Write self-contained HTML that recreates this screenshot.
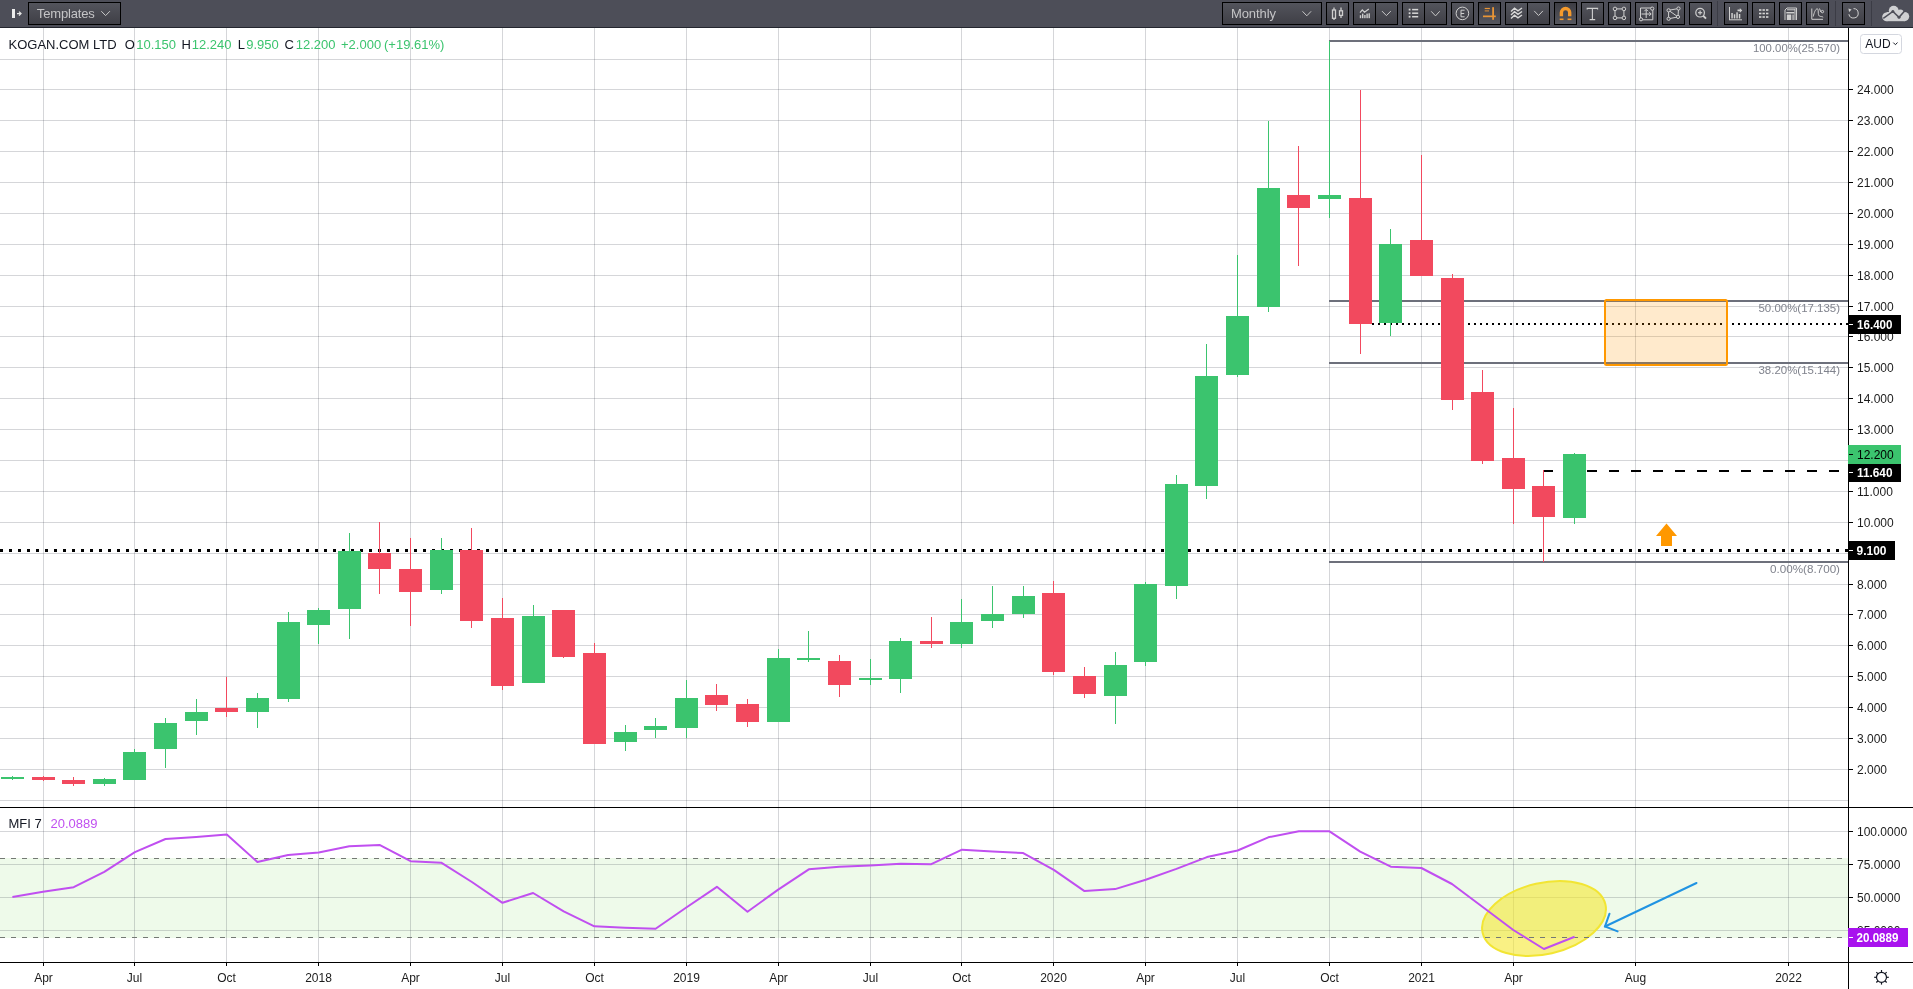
<!DOCTYPE html>
<html><head><meta charset="utf-8"><title>KOGAN.COM LTD chart</title>
<style>
html,body{margin:0;padding:0;width:1913px;height:989px;overflow:hidden;background:#fff;font-family:"Liberation Sans", sans-serif;}
#chart{position:absolute;left:0;top:0;will-change:transform;}
#tb{will-change:transform;}
#tb{position:absolute;left:0;top:0;width:1913px;height:27px;background:#4d4e58;border-bottom:1px solid #24262f;z-index:2;}
.b{position:absolute;top:2px;height:21px;border:1px solid #000;background:linear-gradient(#53545c,#3f3f46);box-sizing:content-box;}
.b.act{background:linear-gradient(#3d3d44,#55565e);}
.b svg{position:absolute;left:0;top:0;}
.dv{position:absolute;top:0;width:1px;height:21px;background:#000;}
.sep{position:absolute;top:1px;width:1px;height:25px;background:#3b3c45;}
.txt{position:absolute;font-family:"Liberation Sans",sans-serif;color:#c4c4c6;font-size:13px;top:3px;}

</style></head><body>
<div id="tb">
 <svg style="position:absolute;left:0;top:0" width="28" height="27"><rect x="12" y="9" width="3" height="9" fill="#ececec"/><path d="M17 13.6 H21 M19 11.6 L21 13.6 L19 15.6" stroke="#e6e6e6" stroke-width="1.3" fill="none"/></svg>
 <div class="b" style="left:28px;width:91px"><span class="txt" style="left:7.8px;top:3px;letter-spacing:-0.15px">Templates</span><svg width="91" height="21"><polyline points="72.3,8.2 76.6,12.6 80.9,8.2" fill="none" stroke="#c8c8c8" stroke-width="1"/></svg></div>
 <div class="b" style="left:1222px;width:98px"><span class="txt" style="left:8px;top:3px;letter-spacing:-0.1px">Monthly</span><svg width="98" height="21"><polyline points="79.5,8.3 83.8,12.8 88.1,8.3" fill="none" stroke="#c8c8c8" stroke-width="1"/></svg></div>
 <div class="b" style="left:1326px;width:21px"><svg width="21" height="21"><g fill="none" stroke="#cfcfcf" stroke-width="1.3"><rect x="5.5" y="7" width="3" height="8.3"/><line x1="7" y1="4.4" x2="7" y2="7"/><line x1="7" y1="15.3" x2="7" y2="17"/><rect x="12.5" y="7.8" width="3" height="4.6"/><line x1="14" y1="4.6" x2="14" y2="7.8"/><line x1="14" y1="12.4" x2="14" y2="15"/></g></svg></div>
 <div class="b" style="left:1353px;width:43px"><div class="dv" style="left:21px"></div><svg width="43" height="21"><g fill="#cfcfcf"><rect x="5.8" y="12.2" width="1.4" height="3"/><rect x="8" y="10.6" width="1.4" height="4.6"/><rect x="10.2" y="12" width="1.4" height="3.2"/><rect x="12.4" y="10.6" width="1.4" height="4.6"/><rect x="14.5" y="10.3" width="1.4" height="4.9"/></g><polyline points="6,9.6 8.3,6.9 10.5,9.2 14.8,6" fill="none" stroke="#cfcfcf" stroke-width="1.3"/><polyline points="28,8.1 32.4,12.6 36.8,8.1" fill="none" stroke="#c8c8c8" stroke-width="1"/></svg></div>
 <div class="b" style="left:1402px;width:43px"><div class="dv" style="left:21px"></div><svg width="43" height="21"><g fill="#d6d6d6"><rect x="5.7" y="5.7" width="1.8" height="1.8"/><rect x="5.7" y="9.3" width="1.8" height="1.8"/><rect x="5.7" y="12.8" width="1.8" height="1.8"/><rect x="9.1" y="5.85" width="6.1" height="1.5"/><rect x="9.1" y="9.45" width="6.1" height="1.5"/><rect x="9.1" y="12.95" width="6.1" height="1.5"/></g><polyline points="28.2,8.3 32.5,12.9 36.7,8.3" fill="none" stroke="#c8c8c8" stroke-width="1"/></svg></div>
 <div class="b" style="left:1451px;width:21px"><svg width="21" height="21"><circle cx="10.4" cy="10.4" r="6.3" fill="none" stroke="#cfcfcf" stroke-width="1"/><path d="M12.6 7.2 H9 V13.8 H12.6 M9 10.5 H12.2" fill="none" stroke="#cfcfcf" stroke-width="1"/></svg></div>
 <div class="b act" style="left:1478px;width:21px"><svg width="21" height="21"><g fill="#e99536"><rect x="13.2" y="4.2" width="1.8" height="12.6"/><rect x="4" y="12.5" width="12.8" height="1.7"/><rect x="5.7" y="4.9" width="5.2" height="1.2"/><rect x="5.7" y="7.3" width="4.3" height="1.2" opacity=".8"/></g></svg></div>
 <div class="b" style="left:1505px;width:43px"><div class="dv" style="left:21px"></div><svg width="43" height="21"><g fill="none" stroke="#d8d8d8" stroke-width="1.4"><polyline points="5,8.5 8.5,5.2 12,7.8 16,5"/><polyline points="5,12 8.5,8.7 12,11.3 16,8.5"/><polyline points="5,15.5 8.5,12.2 12,14.8 16,12"/></g><polyline points="28.2,7.9 32.55,12.5 36.9,7.9" fill="none" stroke="#c8c8c8" stroke-width="1"/></svg></div>
 <div class="b act" style="left:1554px;width:21px"><svg width="21" height="21"><path d="M6.4 13.3 V9.6 A4.15 4.15 0 0 1 14.7 9.6 V13.3" fill="none" stroke="#f59a2c" stroke-width="3.4"/><rect x="4.7" y="15.5" width="3.8" height="1.6" fill="#f59a2c"/><rect x="12.6" y="15.5" width="3.8" height="1.6" fill="#f59a2c"/></svg></div>
 <div class="b" style="left:1581px;width:21px"><svg width="21" height="21"><path d="M5.2 6.4 V5.4 H15.6 V6.4 M10.4 5.4 V16.6 M7.6 16.6 H13.2" fill="none" stroke="#d0d0d0" stroke-width="1.1"/></svg></div>
 <div class="b" style="left:1608px;width:21px"><svg width="21" height="21"><g fill="none" stroke="#d0d0d0" stroke-width="1"><rect x="6" y="5.9" width="8.9" height="9"/><circle cx="6" cy="5.9" r="1.8" fill="#4a4a51"/><circle cx="14.9" cy="5.9" r="1.8" fill="#4a4a51"/><circle cx="6" cy="14.9" r="1.8" fill="#4a4a51"/><circle cx="14.9" cy="14.9" r="1.8" fill="#4a4a51"/></g></svg></div>
 <div class="b" style="left:1635px;width:21px"><svg width="21" height="21"><g fill="none" stroke="#d0d0d0" stroke-width="1"><polyline points="4.5,15.5 4.5,5 15.5,5"/><polyline points="5,16.8 16.8,16.8 16.8,6"/><line x1="10.2" y1="15" x2="10.2" y2="6.5"/><polyline points="8.4,8.2 10.2,6.3 12,8.2"/><line x1="5.5" y1="11" x2="15" y2="11"/><polyline points="13.2,9.2 15.2,11 13.2,12.8"/><circle cx="16.2" cy="5.6" r="1.6" fill="#4a4a51"/><circle cx="5" cy="16.3" r="1.6" fill="#4a4a51"/></g></svg></div>
 <div class="b" style="left:1662px;width:21px"><svg width="21" height="21"><g fill="none" stroke="#d0d0d0" stroke-width="1"><polygon points="5.6,7.3 15.5,5.5 15,13.9 5.6,15.8"/><line x1="5.6" y1="7.3" x2="15" y2="13.9"/><circle cx="5.6" cy="7.3" r="1.6" fill="#4a4a51"/><circle cx="15.5" cy="5.5" r="1.6" fill="#4a4a51"/><circle cx="15" cy="13.9" r="1.6" fill="#4a4a51"/><circle cx="5.6" cy="15.8" r="1.6" fill="#4a4a51"/></g></svg></div>
 <div class="b" style="left:1689px;width:21px"><svg width="21" height="21"><g fill="none" stroke="#d0d0d0" stroke-width="1.2"><circle cx="10.1" cy="9.7" r="4.3"/><line x1="13.3" y1="12.9" x2="16" y2="15.6" stroke-width="2"/><line x1="10.1" y1="7.6" x2="10.1" y2="11.8"/><line x1="8" y1="9.7" x2="12.2" y2="9.7"/></g></svg></div>
 <div class="sep" style="left:1717px"></div>
 <div class="b" style="left:1724px;width:22px"><svg width="22" height="21"><g fill="#d0d0d0"><rect x="4" y="4" width="1" height="13"/><rect x="4" y="16.3" width="13" height="1"/><rect x="6.3" y="10" width="1.5" height="5.5"/><rect x="8.8" y="11.3" width="1.5" height="4.2"/><rect x="11.3" y="9.3" width="1.5" height="6.2"/><rect x="13.8" y="11" width="1.5" height="4.5"/><path d="M12.5 6.6 H14.8 V5 L17.3 7.4 L14.8 9.8 V8.2 H12.5 Z"/></g></svg></div>
 <div class="b" style="left:1752px;width:21px"><svg width="21" height="21"><g fill="#d6d6d6"><rect x="6" y="6.2" width="2.4" height="1.6"/><rect x="9.5" y="6.2" width="2.4" height="1.6"/><rect x="13" y="6.2" width="2.4" height="1.6"/><rect x="6" y="9.7" width="2.4" height="1.6"/><rect x="9.5" y="9.7" width="2.4" height="1.6"/><rect x="13" y="9.7" width="2.4" height="1.6"/><rect x="6" y="13.2" width="2.4" height="1.6"/><rect x="9.5" y="13.2" width="2.4" height="1.6"/><rect x="13" y="13.2" width="2.4" height="1.6"/></g></svg></div>
 <div class="b" style="left:1779px;width:21px"><svg width="21" height="21"><g fill="none" stroke="#d0d0d0" stroke-width="1"><polyline points="5,17 5,7 7,5 16.5,5 16.5,17"/><line x1="7" y1="6.8" x2="15" y2="6.8"/><line x1="15" y1="6" x2="15" y2="17"/></g><g fill="#d0d0d0"><rect x="6.3" y="9" width="8" height="1.5"/><rect x="6.8" y="11.5" width="4.5" height="5.5"/><rect x="12.2" y="11.5" width="1.8" height="5.5" opacity=".7"/></g></svg></div>
 <div class="b" style="left:1806px;width:21px"><svg width="21" height="21"><g fill="none" stroke="#d0d0d0" stroke-width="1"><polyline points="4.8,5.5 4.8,16.3 16,16.3"/><path d="M6.3 13.5 C7 10 8.5 5.8 10.3 5.8 C12 5.8 10.5 12 12.3 13 C13.8 13.8 15 13.3 16.2 14.2"/><path d="M12.5 5.5 L13.8 9"/><circle cx="15.4" cy="8.6" r="1.2"/></g></svg></div>
 <div class="sep" style="left:1835px"></div>
 <div class="b" style="left:1842px;width:21px"><svg width="21" height="21"><path d="M10.5 5.6 A4.7 4.7 0 1 1 5.9 11.2" fill="none" stroke="#d0d0d0" stroke-width="1"/><path d="M5.4 5.6 L8.6 6.4 L6.1 8.9 Z" fill="#d0d0d0"/></svg></div>
 <div class="sep" style="left:1871px"></div>
 <svg style="position:absolute;left:1880px;top:4px" width="32" height="20"><g fill="#cfd0d2"><circle cx="13.7" cy="6.6" r="4.9"/><circle cx="6.6" cy="12.8" r="4.4"/><circle cx="24.6" cy="12.6" r="4.6"/><circle cx="20.3" cy="9" r="3.6"/><rect x="6.6" y="8" width="18" height="9.2"/></g><polyline points="3.3,14.4 12.9,7.4 19,13.3 25.3,6.3" fill="none" stroke="#4d4e58" stroke-width="1.5"/><circle cx="12.9" cy="7.4" r="1.5" fill="#4d4e58"/><circle cx="19" cy="13.3" r="1.5" fill="#4d4e58"/></svg>
</div>

<svg id="chart" width="1913" height="989" viewBox="0 0 1913 989" style="top:0">
<rect x="0" y="28" width="1913" height="961" fill="#fff"/>
<rect x="0" y="858" width="1848" height="80" fill="#eefaea"/>
<g shape-rendering="crispEdges" stroke="rgba(45,50,65,0.2)" stroke-width="1">
<line x1="0" y1="800.5" x2="1848" y2="800.5"/>
<line x1="0" y1="769.5" x2="1848" y2="769.5"/>
<line x1="0" y1="738.5" x2="1848" y2="738.5"/>
<line x1="0" y1="707.5" x2="1848" y2="707.5"/>
<line x1="0" y1="676.5" x2="1848" y2="676.5"/>
<line x1="0" y1="645.5" x2="1848" y2="645.5"/>
<line x1="0" y1="614.5" x2="1848" y2="614.5"/>
<line x1="0" y1="584.5" x2="1848" y2="584.5"/>
<line x1="0" y1="553.5" x2="1848" y2="553.5"/>
<line x1="0" y1="522.5" x2="1848" y2="522.5"/>
<line x1="0" y1="491.5" x2="1848" y2="491.5"/>
<line x1="0" y1="460.5" x2="1848" y2="460.5"/>
<line x1="0" y1="429.5" x2="1848" y2="429.5"/>
<line x1="0" y1="398.5" x2="1848" y2="398.5"/>
<line x1="0" y1="367.5" x2="1848" y2="367.5"/>
<line x1="0" y1="336.5" x2="1848" y2="336.5"/>
<line x1="0" y1="306.5" x2="1848" y2="306.5"/>
<line x1="0" y1="275.5" x2="1848" y2="275.5"/>
<line x1="0" y1="244.5" x2="1848" y2="244.5"/>
<line x1="0" y1="213.5" x2="1848" y2="213.5"/>
<line x1="0" y1="182.5" x2="1848" y2="182.5"/>
<line x1="0" y1="151.5" x2="1848" y2="151.5"/>
<line x1="0" y1="120.5" x2="1848" y2="120.5"/>
<line x1="0" y1="89.5" x2="1848" y2="89.5"/>
<line x1="0" y1="59.5" x2="1848" y2="59.5"/>
<line x1="0" y1="831.5" x2="1848" y2="831.5"/>
<line x1="0" y1="864.5" x2="1848" y2="864.5"/>
<line x1="0" y1="897.5" x2="1848" y2="897.5"/>
<line x1="0" y1="930.5" x2="1848" y2="930.5"/>
<line x1="43.5" y1="28" x2="43.5" y2="807"/>
<line x1="43.5" y1="808" x2="43.5" y2="962"/>
<line x1="134.5" y1="28" x2="134.5" y2="807"/>
<line x1="134.5" y1="808" x2="134.5" y2="962"/>
<line x1="226.5" y1="28" x2="226.5" y2="807"/>
<line x1="226.5" y1="808" x2="226.5" y2="962"/>
<line x1="318.5" y1="28" x2="318.5" y2="807"/>
<line x1="318.5" y1="808" x2="318.5" y2="962"/>
<line x1="410.5" y1="28" x2="410.5" y2="807"/>
<line x1="410.5" y1="808" x2="410.5" y2="962"/>
<line x1="502.5" y1="28" x2="502.5" y2="807"/>
<line x1="502.5" y1="808" x2="502.5" y2="962"/>
<line x1="594.5" y1="28" x2="594.5" y2="807"/>
<line x1="594.5" y1="808" x2="594.5" y2="962"/>
<line x1="686.5" y1="28" x2="686.5" y2="807"/>
<line x1="686.5" y1="808" x2="686.5" y2="962"/>
<line x1="778.5" y1="28" x2="778.5" y2="807"/>
<line x1="778.5" y1="808" x2="778.5" y2="962"/>
<line x1="870.5" y1="28" x2="870.5" y2="807"/>
<line x1="870.5" y1="808" x2="870.5" y2="962"/>
<line x1="961.5" y1="28" x2="961.5" y2="807"/>
<line x1="961.5" y1="808" x2="961.5" y2="962"/>
<line x1="1053.5" y1="28" x2="1053.5" y2="807"/>
<line x1="1053.5" y1="808" x2="1053.5" y2="962"/>
<line x1="1145.5" y1="28" x2="1145.5" y2="807"/>
<line x1="1145.5" y1="808" x2="1145.5" y2="962"/>
<line x1="1237.5" y1="28" x2="1237.5" y2="807"/>
<line x1="1237.5" y1="808" x2="1237.5" y2="962"/>
<line x1="1329.5" y1="28" x2="1329.5" y2="807"/>
<line x1="1329.5" y1="808" x2="1329.5" y2="962"/>
<line x1="1421.5" y1="28" x2="1421.5" y2="807"/>
<line x1="1421.5" y1="808" x2="1421.5" y2="962"/>
<line x1="1513.5" y1="28" x2="1513.5" y2="807"/>
<line x1="1513.5" y1="808" x2="1513.5" y2="962"/>
<line x1="1635.5" y1="28" x2="1635.5" y2="807"/>
<line x1="1635.5" y1="808" x2="1635.5" y2="962"/>
<line x1="1788.5" y1="28" x2="1788.5" y2="807"/>
<line x1="1788.5" y1="808" x2="1788.5" y2="962"/>
</g>
<g shape-rendering="crispEdges" fill="#6d707b">
<rect x="1329" y="40" width="519" height="2"/>
<rect x="1329" y="300" width="519" height="2"/>
<rect x="1329" y="362" width="519" height="2"/>
<rect x="1329" y="561" width="519" height="2"/>
</g>
<g font-family='"Liberation Sans", sans-serif' font-size="11.5" fill="#80838d" text-anchor="end">
<text x="1840" y="52" textLength="87" lengthAdjust="spacingAndGlyphs">100.00%(25.570)</text>
<text x="1840" y="312" textLength="81.5" lengthAdjust="spacingAndGlyphs">50.00%(17.135)</text>
<text x="1840" y="373.5" textLength="81.5" lengthAdjust="spacingAndGlyphs">38.20%(15.144)</text>
<text x="1840" y="573" textLength="70" lengthAdjust="spacingAndGlyphs">0.00%(8.700)</text>
</g>
<g shape-rendering="crispEdges" fill="#000">
<line x1="0" y1="550.5" x2="1848" y2="550.5" stroke="#000" stroke-width="3" stroke-dasharray="3 6"/>
<line x1="1372" y1="324" x2="1848" y2="324" stroke="#000" stroke-width="2" stroke-dasharray="2 4"/>
</g>
<line x1="1543" y1="471" x2="1848" y2="471" stroke="#000" stroke-width="2" stroke-dasharray="10 12" shape-rendering="crispEdges"/>
<g shape-rendering="crispEdges">
<rect x="12" y="776" width="1" height="4" fill="#3bc46e"/>
<rect x="1" y="777" width="23" height="2" fill="#3bc46e"/>
<rect x="43" y="776" width="1" height="5" fill="#f2495e"/>
<rect x="32" y="777" width="23" height="3" fill="#f2495e"/>
<rect x="73" y="777" width="1" height="9" fill="#f2495e"/>
<rect x="62" y="780" width="23" height="4" fill="#f2495e"/>
<rect x="104" y="778" width="1" height="8" fill="#3bc46e"/>
<rect x="93" y="779" width="23" height="5" fill="#3bc46e"/>
<rect x="134" y="749" width="1" height="31" fill="#3bc46e"/>
<rect x="123" y="752" width="23" height="28" fill="#3bc46e"/>
<rect x="165" y="718" width="1" height="50" fill="#3bc46e"/>
<rect x="154" y="723" width="23" height="26" fill="#3bc46e"/>
<rect x="196" y="699" width="1" height="36" fill="#3bc46e"/>
<rect x="185" y="712" width="23" height="9" fill="#3bc46e"/>
<rect x="226" y="677" width="1" height="40" fill="#f2495e"/>
<rect x="215" y="708" width="23" height="4" fill="#f2495e"/>
<rect x="257" y="693" width="1" height="35" fill="#3bc46e"/>
<rect x="246" y="698" width="23" height="14" fill="#3bc46e"/>
<rect x="288" y="612" width="1" height="90" fill="#3bc46e"/>
<rect x="277" y="622" width="23" height="77" fill="#3bc46e"/>
<rect x="318" y="608" width="1" height="36" fill="#3bc46e"/>
<rect x="307" y="610" width="23" height="15" fill="#3bc46e"/>
<rect x="349" y="533" width="1" height="106" fill="#3bc46e"/>
<rect x="338" y="551" width="23" height="58" fill="#3bc46e"/>
<rect x="379" y="522" width="1" height="72" fill="#f2495e"/>
<rect x="368" y="553" width="23" height="16" fill="#f2495e"/>
<rect x="410" y="538" width="1" height="88" fill="#f2495e"/>
<rect x="399" y="569" width="23" height="23" fill="#f2495e"/>
<rect x="441" y="538" width="1" height="56" fill="#3bc46e"/>
<rect x="430" y="550" width="23" height="40" fill="#3bc46e"/>
<rect x="471" y="528" width="1" height="100" fill="#f2495e"/>
<rect x="460" y="550" width="23" height="71" fill="#f2495e"/>
<rect x="502" y="598" width="1" height="92" fill="#f2495e"/>
<rect x="491" y="618" width="23" height="68" fill="#f2495e"/>
<rect x="533" y="605" width="1" height="78" fill="#3bc46e"/>
<rect x="522" y="616" width="23" height="67" fill="#3bc46e"/>
<rect x="563" y="610" width="1" height="48" fill="#f2495e"/>
<rect x="552" y="610" width="23" height="47" fill="#f2495e"/>
<rect x="594" y="643" width="1" height="101" fill="#f2495e"/>
<rect x="583" y="653" width="23" height="91" fill="#f2495e"/>
<rect x="625" y="725" width="1" height="26" fill="#3bc46e"/>
<rect x="614" y="732" width="23" height="10" fill="#3bc46e"/>
<rect x="655" y="718" width="1" height="20" fill="#3bc46e"/>
<rect x="644" y="726" width="23" height="4" fill="#3bc46e"/>
<rect x="686" y="680" width="1" height="58" fill="#3bc46e"/>
<rect x="675" y="698" width="23" height="30" fill="#3bc46e"/>
<rect x="716" y="684" width="1" height="27" fill="#f2495e"/>
<rect x="705" y="695" width="23" height="10" fill="#f2495e"/>
<rect x="747" y="699" width="1" height="28" fill="#f2495e"/>
<rect x="736" y="704" width="23" height="18" fill="#f2495e"/>
<rect x="778" y="649" width="1" height="73" fill="#3bc46e"/>
<rect x="767" y="658" width="23" height="64" fill="#3bc46e"/>
<rect x="808" y="631" width="1" height="31" fill="#3bc46e"/>
<rect x="797" y="658" width="23" height="2" fill="#3bc46e"/>
<rect x="839" y="655" width="1" height="42" fill="#f2495e"/>
<rect x="828" y="661" width="23" height="24" fill="#f2495e"/>
<rect x="870" y="659" width="1" height="26" fill="#3bc46e"/>
<rect x="859" y="678" width="23" height="2" fill="#3bc46e"/>
<rect x="900" y="638" width="1" height="55" fill="#3bc46e"/>
<rect x="889" y="641" width="23" height="38" fill="#3bc46e"/>
<rect x="931" y="617" width="1" height="31" fill="#f2495e"/>
<rect x="920" y="641" width="23" height="3" fill="#f2495e"/>
<rect x="961" y="599" width="1" height="49" fill="#3bc46e"/>
<rect x="950" y="622" width="23" height="22" fill="#3bc46e"/>
<rect x="992" y="586" width="1" height="42" fill="#3bc46e"/>
<rect x="981" y="614" width="23" height="7" fill="#3bc46e"/>
<rect x="1023" y="586" width="1" height="32" fill="#3bc46e"/>
<rect x="1012" y="596" width="23" height="18" fill="#3bc46e"/>
<rect x="1053" y="581" width="1" height="94" fill="#f2495e"/>
<rect x="1042" y="593" width="23" height="79" fill="#f2495e"/>
<rect x="1084" y="667" width="1" height="31" fill="#f2495e"/>
<rect x="1073" y="676" width="23" height="18" fill="#f2495e"/>
<rect x="1115" y="652" width="1" height="72" fill="#3bc46e"/>
<rect x="1104" y="665" width="23" height="31" fill="#3bc46e"/>
<rect x="1145" y="582" width="1" height="84" fill="#3bc46e"/>
<rect x="1134" y="584" width="23" height="78" fill="#3bc46e"/>
<rect x="1176" y="475" width="1" height="124" fill="#3bc46e"/>
<rect x="1165" y="484" width="23" height="102" fill="#3bc46e"/>
<rect x="1206" y="344" width="1" height="155" fill="#3bc46e"/>
<rect x="1195" y="376" width="23" height="110" fill="#3bc46e"/>
<rect x="1237" y="255" width="1" height="122" fill="#3bc46e"/>
<rect x="1226" y="316" width="23" height="59" fill="#3bc46e"/>
<rect x="1268" y="121" width="1" height="191" fill="#3bc46e"/>
<rect x="1257" y="188" width="23" height="119" fill="#3bc46e"/>
<rect x="1298" y="146" width="1" height="120" fill="#f2495e"/>
<rect x="1287" y="195" width="23" height="13" fill="#f2495e"/>
<rect x="1329" y="41" width="1" height="177" fill="#3bc46e"/>
<rect x="1318" y="195" width="23" height="4" fill="#3bc46e"/>
<rect x="1360" y="90" width="1" height="264" fill="#f2495e"/>
<rect x="1349" y="198" width="23" height="126" fill="#f2495e"/>
<rect x="1390" y="229" width="1" height="107" fill="#3bc46e"/>
<rect x="1379" y="244" width="23" height="79" fill="#3bc46e"/>
<rect x="1421" y="155" width="1" height="121" fill="#f2495e"/>
<rect x="1410" y="240" width="23" height="36" fill="#f2495e"/>
<rect x="1452" y="274" width="1" height="136" fill="#f2495e"/>
<rect x="1441" y="278" width="23" height="122" fill="#f2495e"/>
<rect x="1482" y="370" width="1" height="94" fill="#f2495e"/>
<rect x="1471" y="392" width="23" height="69" fill="#f2495e"/>
<rect x="1513" y="408" width="1" height="116" fill="#f2495e"/>
<rect x="1502" y="458" width="23" height="31" fill="#f2495e"/>
<rect x="1543" y="470" width="1" height="92" fill="#f2495e"/>
<rect x="1532" y="486" width="23" height="31" fill="#f2495e"/>
<rect x="1574" y="453" width="1" height="71" fill="#3bc46e"/>
<rect x="1563" y="454" width="23" height="64" fill="#3bc46e"/>
</g>
<rect x="1605" y="300" width="122" height="65" rx="1.5" fill="rgba(255,152,0,0.2)" stroke="#ff9800" stroke-width="2"/>
<path d="M1666.5 523.5 L1677 536 L1672 536 L1672 546 L1661 546 L1661 536 L1656 536 Z" fill="#ff9800"/>
<ellipse cx="1544" cy="918.5" rx="63" ry="35.6" transform="rotate(-13 1544 918.5)" fill="rgba(245,232,50,0.6)" stroke="#f2e534" stroke-width="2"/>
<g shape-rendering="crispEdges" stroke="#747974" stroke-width="1" stroke-dasharray="5 6">
<line x1="0" y1="858.5" x2="1848" y2="858.5"/>
<line x1="0" y1="937.5" x2="1848" y2="937.5"/>
</g>
<polyline points="12.4,896.9 43.0,891.8 73.7,887.2 104.3,871.8 134.9,852.2 165.5,839.0 196.2,837.0 226.8,834.4 257.4,862.0 288.1,855.1 318.7,852.4 349.3,846.3 380.0,845.1 410.6,861.2 441.2,862.7 471.9,882.0 502.5,902.8 533.1,893.0 563.7,911.3 594.4,926.3 625.0,927.8 655.6,928.8 686.3,907.5 716.9,886.8 747.5,911.8 778.2,889.6 808.8,869.3 839.4,866.7 870.1,865.5 900.7,863.8 931.3,864.2 962.0,849.7 992.6,851.6 1023.2,853.1 1053.8,869.9 1084.5,891.1 1115.1,889.1 1145.7,879.8 1176.4,868.9 1207.0,857.1 1237.6,850.5 1268.3,837.3 1298.9,831.3 1329.5,831.3 1360.2,851.6 1390.8,866.7 1421.4,868.0 1452.0,884.0 1482.7,907.0 1513.3,930.0 1543.9,949.0 1574.6,936.8" fill="none" stroke="#c04ff0" stroke-width="2" stroke-linejoin="round"/>
<g stroke="#2093e2" stroke-width="2" fill="none" stroke-linecap="round"><line x1="1696.5" y1="883" x2="1605" y2="926.5"/><polyline points="1609.5,913.7 1605,926.5 1617.6,931.4"/></g>
<g shape-rendering="crispEdges" fill="#000">
<rect x="0" y="807" width="1913" height="1"/>
<rect x="0" y="962" width="1913" height="1"/>
<rect x="1848" y="28" width="1" height="961"/>
<rect x="1849" y="769" width="4" height="1"/>
<rect x="1849" y="738" width="4" height="1"/>
<rect x="1849" y="707" width="4" height="1"/>
<rect x="1849" y="676" width="4" height="1"/>
<rect x="1849" y="645" width="4" height="1"/>
<rect x="1849" y="614" width="4" height="1"/>
<rect x="1849" y="584" width="4" height="1"/>
<rect x="1849" y="553" width="4" height="1"/>
<rect x="1849" y="522" width="4" height="1"/>
<rect x="1849" y="491" width="4" height="1"/>
<rect x="1849" y="460" width="4" height="1"/>
<rect x="1849" y="429" width="4" height="1"/>
<rect x="1849" y="398" width="4" height="1"/>
<rect x="1849" y="367" width="4" height="1"/>
<rect x="1849" y="336" width="4" height="1"/>
<rect x="1849" y="306" width="4" height="1"/>
<rect x="1849" y="275" width="4" height="1"/>
<rect x="1849" y="244" width="4" height="1"/>
<rect x="1849" y="213" width="4" height="1"/>
<rect x="1849" y="182" width="4" height="1"/>
<rect x="1849" y="151" width="4" height="1"/>
<rect x="1849" y="120" width="4" height="1"/>
<rect x="1849" y="89" width="4" height="1"/>
<rect x="1849" y="831" width="4" height="1"/>
<rect x="1849" y="864" width="4" height="1"/>
<rect x="1849" y="897" width="4" height="1"/>
<rect x="1849" y="930" width="4" height="1"/>
<rect x="43" y="963" width="1" height="3"/>
<rect x="134" y="963" width="1" height="3"/>
<rect x="226" y="963" width="1" height="3"/>
<rect x="318" y="963" width="1" height="3"/>
<rect x="410" y="963" width="1" height="3"/>
<rect x="502" y="963" width="1" height="3"/>
<rect x="594" y="963" width="1" height="3"/>
<rect x="686" y="963" width="1" height="3"/>
<rect x="778" y="963" width="1" height="3"/>
<rect x="870" y="963" width="1" height="3"/>
<rect x="961" y="963" width="1" height="3"/>
<rect x="1053" y="963" width="1" height="3"/>
<rect x="1145" y="963" width="1" height="3"/>
<rect x="1237" y="963" width="1" height="3"/>
<rect x="1329" y="963" width="1" height="3"/>
<rect x="1421" y="963" width="1" height="3"/>
<rect x="1513" y="963" width="1" height="3"/>
<rect x="1635" y="963" width="1" height="3"/>
<rect x="1788" y="963" width="1" height="3"/>
</g>
<g font-family='"Liberation Sans", sans-serif' font-size="12" fill="#1c1c1c">
<text x="1857" y="773.8">2.000</text>
<text x="1857" y="742.8">3.000</text>
<text x="1857" y="711.8">4.000</text>
<text x="1857" y="680.8">5.000</text>
<text x="1857" y="649.8">6.000</text>
<text x="1857" y="618.8">7.000</text>
<text x="1857" y="588.8">8.000</text>
<text x="1857" y="557.8">9.000</text>
<text x="1857" y="526.8">10.000</text>
<text x="1857" y="495.8">11.000</text>
<text x="1857" y="464.8">12.000</text>
<text x="1857" y="433.8">13.000</text>
<text x="1857" y="402.8">14.000</text>
<text x="1857" y="371.8">15.000</text>
<text x="1857" y="340.8">16.000</text>
<text x="1857" y="310.8">17.000</text>
<text x="1857" y="279.8">18.000</text>
<text x="1857" y="248.8">19.000</text>
<text x="1857" y="217.8">20.000</text>
<text x="1857" y="186.8">21.000</text>
<text x="1857" y="155.8">22.000</text>
<text x="1857" y="124.8">23.000</text>
<text x="1857" y="93.8">24.000</text>
<text x="1857" y="835.8">100.0000</text>
<text x="1857" y="868.8">75.0000</text>
<text x="1857" y="901.8">50.0000</text>
<text x="1857" y="934.8">25.0000</text>
</g>
<g font-family='"Liberation Sans", sans-serif' font-size="12" fill="#1c1c1c" text-anchor="middle">
<text x="43.5" y="982">Apr</text>
<text x="134.5" y="982">Jul</text>
<text x="226.5" y="982">Oct</text>
<text x="318.5" y="982">2018</text>
<text x="410.5" y="982">Apr</text>
<text x="502.5" y="982">Jul</text>
<text x="594.5" y="982">Oct</text>
<text x="686.5" y="982">2019</text>
<text x="778.5" y="982">Apr</text>
<text x="870.5" y="982">Jul</text>
<text x="961.5" y="982">Oct</text>
<text x="1053.5" y="982">2020</text>
<text x="1145.5" y="982">Apr</text>
<text x="1237.5" y="982">Jul</text>
<text x="1329.5" y="982">Oct</text>
<text x="1421.5" y="982">2021</text>
<text x="1513.5" y="982">Apr</text>
<text x="1635.5" y="982">Aug</text>
<text x="1788.5" y="982">2022</text>
</g>
<g shape-rendering="crispEdges">
<rect x="1848" y="445" width="53" height="19" fill="#3bc46e"/>
<rect x="1849" y="454" width="4" height="1" fill="#000"/>
<rect x="1848" y="464" width="53" height="18" fill="#000"/>
<rect x="1849" y="472" width="4" height="1" fill="#fff"/>
<rect x="1848" y="315" width="53" height="19" fill="#000"/>
<rect x="1849" y="324" width="4" height="1" fill="#fff"/>
<rect x="1848" y="541" width="47" height="19" fill="#000"/>
<rect x="1849" y="550" width="4" height="1" fill="#fff"/>
<rect x="1848" y="928" width="60" height="19" fill="#a812ee"/>
<rect x="1849" y="937" width="4" height="1" fill="#fff"/>
</g>
<g font-family='"Liberation Sans", sans-serif' font-size="12">
<text x="1857" y="459" fill="#000">12.200</text>
<text x="1857" y="477.3" fill="#fff" font-weight="bold" textLength="35.5" lengthAdjust="spacingAndGlyphs">11.640</text>
<text x="1857" y="329.3" fill="#fff" font-weight="bold" textLength="35.5" lengthAdjust="spacingAndGlyphs">16.400</text>
<text x="1856.5" y="555.3" fill="#fff" font-weight="bold" textLength="30" lengthAdjust="spacingAndGlyphs">9.100</text>
<text x="1856.5" y="942" fill="#fff" font-weight="bold" textLength="42" lengthAdjust="spacingAndGlyphs">20.0889</text>
</g>
<g font-family='"Liberation Sans", sans-serif' font-size="13">
<text x="8.5" y="49" fill="#131722">KOGAN.COM LTD</text>
<text x="124.8" y="49" fill="#131722">O</text><text x="136.2" y="49" fill="#3bc46e">10.150</text>
<text x="181.6" y="49" fill="#131722">H</text><text x="191.8" y="49" fill="#3bc46e">12.240</text>
<text x="237.8" y="49" fill="#131722">L</text><text x="246.2" y="49" fill="#3bc46e">9.950</text>
<text x="284.5" y="49" fill="#131722">C</text><text x="295.8" y="49" fill="#3bc46e">12.200</text>
<text x="341" y="49" fill="#3bc46e">+2.000</text><text x="384" y="49" fill="#3bc46e">(+19.61%)</text>
<text x="8.5" y="827.6" fill="#131722">MFI 7</text>
<text x="50.5" y="827.6" fill="#c04ff0">20.0889</text>
</g>
<rect x="1860.5" y="34.5" width="41" height="19" rx="3" fill="#fff" stroke="#d4d7df" stroke-width="1"/>
<text x="1865.3" y="47.8" font-family='"Liberation Sans", sans-serif' font-size="12" fill="#131722">AUD</text>
<polyline points="1893.3,42.6 1895.4,44.7 1897.5,42.6" fill="none" stroke="#131722" stroke-width="1"/>
<g stroke="#131722" stroke-width="1.2" fill="none"><circle cx="1881.5" cy="977.3" r="5"/><line x1="1886.70" y1="977.30" x2="1888.80" y2="977.30"/><line x1="1885.18" y1="980.98" x2="1886.66" y2="982.46"/><line x1="1881.50" y1="982.50" x2="1881.50" y2="984.60"/><line x1="1877.82" y1="980.98" x2="1876.34" y2="982.46"/><line x1="1876.30" y1="977.30" x2="1874.20" y2="977.30"/><line x1="1877.82" y1="973.62" x2="1876.34" y2="972.14"/><line x1="1881.50" y1="972.10" x2="1881.50" y2="970.00"/><line x1="1885.18" y1="973.62" x2="1886.66" y2="972.14"/></g>
</svg>
</body></html>
